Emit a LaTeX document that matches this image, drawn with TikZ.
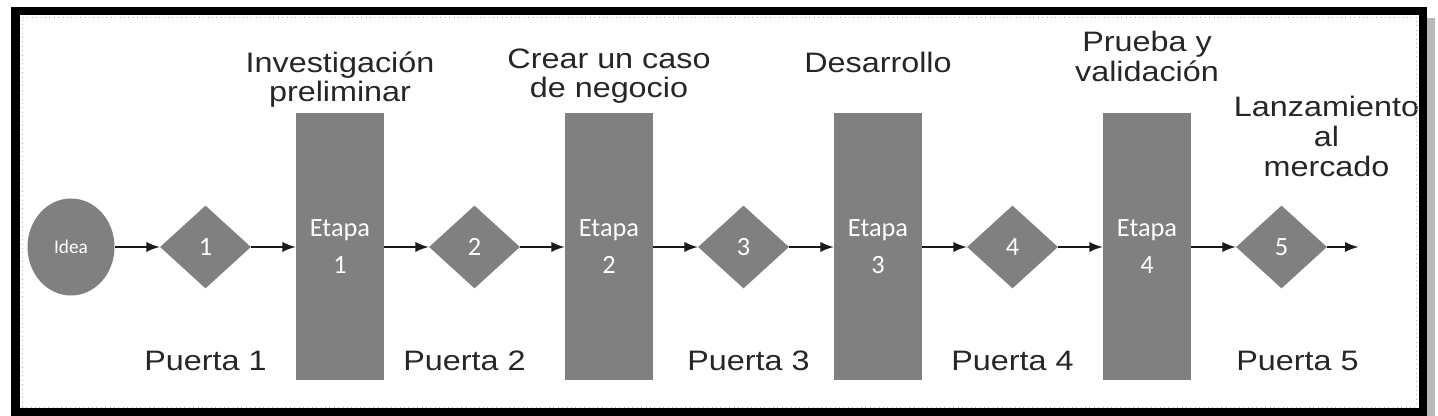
\documentclass[tikz,border=0pt]{standalone}
\usepackage{fontspec}
\setmainfont{Liberation Sans}[FakeStretch=1.15]
\newfontfamily\etiqueta{Carlito}
\usetikzlibrary{shapes,arrows,positioning}
\definecolor{relleno}{RGB}{128,128,128}
\tikzstyle{inicio} = [ellipse, minimum width=1.74cm, minimum height=1.94cm, fill=relleno, text=white, font=\etiqueta\fontsize{11}{13}\selectfont]
\tikzstyle{puerta} = [diamond, minimum width=1.82cm, minimum height=1.66cm, inner sep=0pt, fill=relleno, text=white, font=\etiqueta\fontsize{15}{18}\selectfont]
\tikzstyle{etapa} = [rectangle, minimum width=1.76cm, minimum height=5.34cm, fill=relleno, text=white, align=center, font=\etiqueta\fontsize{15}{21}\selectfont]
\tikzstyle{titulo} = [align=center, inner sep=0pt, text=black!85, font=\fontsize{16}{17}\selectfont]
\tikzstyle{flecha} = [-latex, line width=1.6pt, black!90]

\begin{document}
\begin{tikzpicture}[node distance=2.69cm]
		\useasboundingbox (0,0) rectangle (28.76,8.32);
		\node[inicio] (idea) at (1.42,3.38) {Idea};
		\node[puerta, right of=idea] (p1) {1};
		\node[etapa, right of=p1] (e1) {Etapa\\1};
		\node[puerta, right of=e1] (p2) {2};
		\node[etapa, right of=p2] (e2) {Etapa\\2};
		\node[puerta, right of=e2] (p3) {3};
		\node[etapa, right of=p3] (e3) {Etapa\\3};
		\node[puerta, right of=e3] (p4) {4};
		\node[etapa, right of=p4] (e4) {Etapa\\4};
		\node[puerta, right of=e4] (p5) {5};
		\coordinate[right=0.62cm of p5] (fin);
		
		\node[titulo, above=0.1cm of e1] (t1) {Investigación\\preliminar};
		\node[titulo, above=0.18cm of e2] (t2) {Crear un caso\\de negocio};
		\node[titulo, above=0.8cm of e3] (t3) {Desarrollo};
		\node[titulo, above=0.62cm of e4] (t4) {Prueba y\\validación};
		\node[titulo, above=0.56cm of p5, xshift=0.9cm] (t5) {Lanzamiento\\al\\mercado};
		
		\node[titulo, below=1.24cm of p1] (q1) {Puerta 1};
		\node[titulo, below=1.24cm of p2, xshift=-0.2cm] (q2) {Puerta 2};
		\node[titulo, below=1.24cm of p3, xshift=0.1cm] (q3) {Puerta 3};
		\node[titulo, below=1.24cm of p4] (q4) {Puerta 4};
		\node[titulo, below=1.24cm of p5, xshift=0.32cm] (q5) {Puerta 5};
		
		\draw[flecha] (idea)--(p1);
		\draw[flecha] (p1)--(e1);
		\draw[flecha] (e1)--(p2);
		\draw[flecha] (p2)--(e2);
		\draw[flecha] (e2)--(p3);
		\draw[flecha] (p3)--(e3);
		\draw[flecha] (e3)--(p4);
		\draw[flecha] (p4)--(e4);
		\draw[flecha] (e4)--(p5);
		\draw[flecha] (p5)--(fin);
		
		\draw[gray!60, dotted, line width=0.5pt] (0.44,0.18) rectangle (28.32,7.98);
		\draw[gray!55, line width=4.8pt] (0.47,-0.02) -- (28.62,-0.02) -- (28.62,7.96);
		\draw[line width=4.8pt] (0.31,0.08) rectangle (28.46,8.1);
		\end{tikzpicture}
\end{document}
